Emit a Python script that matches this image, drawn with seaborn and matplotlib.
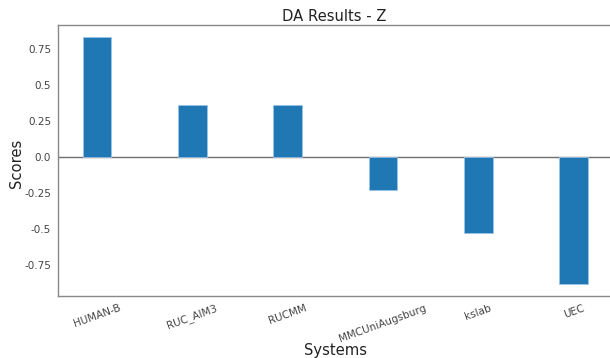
import matplotlib
matplotlib.use("Agg")
import matplotlib.pyplot as plt
import seaborn as sns
import pandas as pd

systems = ["HUMAN-B", "RUC_AIM3", "RUCMM", "MMCUniAugsburg", "kslab", "UEC"]
scores = [0.832, 0.362, 0.362, -0.230, -0.529, -0.884]
ytick_vals = [0.75, 0.5, 0.25, 0.0, -0.25, -0.5, -0.75]
ytick_labels = ["0.75", "0.5", "0.25", "0.0", "-0.25", "-0.5", "-0.75"]

sns.set_style("white")
plt.rcParams["font.family"] = ["DejaVu Sans"]

df = pd.DataFrame({"Systems": systems, "Scores": scores})

fig = plt.figure(figsize=(6.1, 3.58), dpi=100)
ax = fig.add_axes([58/610, 1-296/358, 1-58/610, (296-25)/358])
sns.barplot(data=df, x="Systems", y="Scores", ax=ax, color="#1f77b4",
            saturation=1, width=0.3, edgecolor="#9cc3e6", linewidth=0.6)
ax.axhline(0, color="#707070", linewidth=1.0, zorder=0.5)
ax.set_xlim(-0.41, 5.38)
ax.set_ylim(-0.968, 0.919)
ax.set_yticks(ytick_vals)
ax.set_yticklabels(ytick_labels)
ax.tick_params(axis="both", labelsize=7.5, colors="#444444", length=3, width=0.6, pad=2)
ax.tick_params(axis="both", color="#cccccc")
for lbl in ax.get_xticklabels():
    lbl.set_rotation(20)
    lbl.set_ha("center")
for side in ["left", "top", "bottom"]:
    ax.spines[side].set_color("#888888")
    ax.spines[side].set_linewidth(1.0)
ax.spines["right"].set_visible(False)
ax.set_title("DA Results - Z", fontsize=10.6, color="#222222", pad=3)
ax.set_xlabel("Systems", fontsize=10.6, color="#222222")
ax.set_ylabel("Scores", fontsize=10.6, color="#222222")
ax.xaxis.set_label_coords(0.503, -0.175)
ax.yaxis.set_label_coords(-0.062, 0.49)
fig.savefig("out.png", dpi=100)
